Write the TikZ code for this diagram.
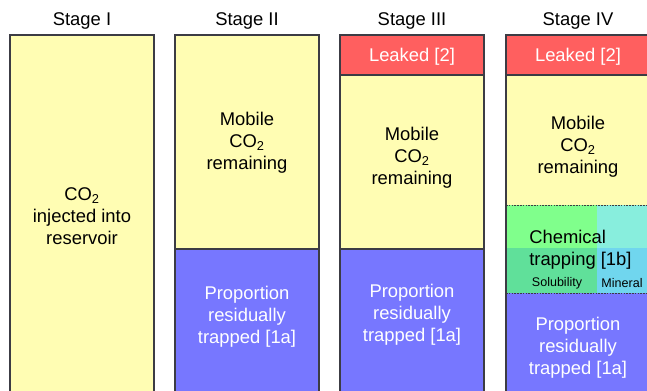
\documentclass[tikz,border=0pt]{standalone}
\usepackage{fontspec}
\setmainfont{Liberation Sans}

\definecolor{edgegray}{HTML}{3C3C44}
\definecolor{mobileyel}{HTML}{FFFDB3}
\definecolor{leakred}{HTML}{FF5F5F}
\definecolor{residblue}{HTML}{7777FF}
\definecolor{solgreen}{HTML}{80FF8C}
\definecolor{mincyan}{HTML}{88EEDD}
\definecolor{solgreenlow}{HTML}{60E09A}
\definecolor{mincyanlow}{HTML}{70D6EE}

\tikzset{
  boxline/.style={draw=edgegray, line width=1.1pt},
  chemline/.style={draw=edgegray, line width=0.7pt, dash pattern=on 1.2pt off 0.9pt},
  txtdark/.style={inner sep=0pt, align=center, text=black, font=\fontsize{13.8}{16.6}\selectfont},
  txtlight/.style={txtdark, text=white},
  txtsmall/.style={inner sep=0pt, text=black, font=\fontsize{9.4}{11}\selectfont},
}

\begin{document}
\begin{tikzpicture}[x=0.75pt,y=0.75pt,yscale=-1,xscale=1]
	\useasboundingbox (0,0) rectangle (647,390);
	\clip (0,0) rectangle (647,390);

	% Stage I
	\fill[mobileyel] (10,35) rectangle (154,400);
	\draw[boxline] (10,400) -- (10,35) -- (154,35) -- (154,400);

	% Stage II
	\fill[mobileyel] (175,35) rectangle (319,249);
	\fill[residblue] (175,249) rectangle (319,400);
	\draw[boxline] (175,249) -- (319,249);
	\draw[boxline] (175,400) -- (175,35) -- (319,35) -- (319,400);

	% Stage III
	\fill[leakred] (340,35) rectangle (484,75);
	\fill[mobileyel] (340,75) rectangle (484,249);
	\fill[residblue] (340,249) rectangle (484,400);
	\draw[boxline] (340,75) -- (484,75);
	\draw[boxline] (340,249) -- (484,249);
	\draw[boxline] (340,400) -- (340,35) -- (484,35) -- (484,400);

	% Stage IV
	\fill[leakred] (506,35) rectangle (652,75);
	\fill[mobileyel] (506,75) rectangle (652,205);
	\fill[solgreen] (506,205) rectangle (597,248);
	\fill[mincyan] (597,205) rectangle (652,248);
	\fill[solgreenlow] (506,248) rectangle (597,293);
	\fill[mincyanlow] (597,248) rectangle (652,293);
	\fill[residblue] (506,293) rectangle (652,400);
	\draw[boxline] (506,75) -- (652,75);
	\draw[chemline] (506,205) -- (652,205);
	\draw[chemline] (506,293) -- (652,293);
	\draw[boxline] (506,400) -- (506,35) -- (652,35) -- (652,400);

	% Titles
	\node[txtdark] (titleI) at (82,21) {Stage I};
	\node[txtdark] (titleII) at (247,21) {Stage II};
	\node[txtdark] (titleIII) at (412,21) {Stage III};
	\node[txtdark] (titleIV) at (578,21) {Stage IV};

	% Region texts
	\node[txtdark] (injectI) at (82,216) {CO\textsubscript{2}\\injected into\\reservoir};

	\node[txtdark] (mobileII) at (247,143) {Mobile\\CO\textsubscript{2}\\remaining};
	\node[txtlight] (residII) at (247,317) {Proportion\\residually\\trapped [1a]};

	\node[txtlight] (leakIII) at (412,57) {Leaked [2]};
	\node[txtdark] (mobileIII) at (412,158) {Mobile\\CO\textsubscript{2}\\remaining};
	\node[txtlight] (residIII) at (412,315) {Proportion\\residually\\trapped [1a]};

	\node[txtlight] (leakIV) at (578,57) {Leaked [2]};
	\node[txtdark] (mobileIV) at (578,147) {Mobile\\CO\textsubscript{2}\\remaining};
	\node[txtdark, align=left, anchor=west] (chemIV) at (529,250) {Chemical\\trapping [1b]};
	\node[txtsmall] (solIV) at (557,283) {Solubility};
	\node[txtsmall] (minIV) at (622,283) {Mineral};
	\node[txtlight] (residIV) at (578,348) {Proportion\\residually\\trapped [1a]};
\end{tikzpicture}
\end{document}
